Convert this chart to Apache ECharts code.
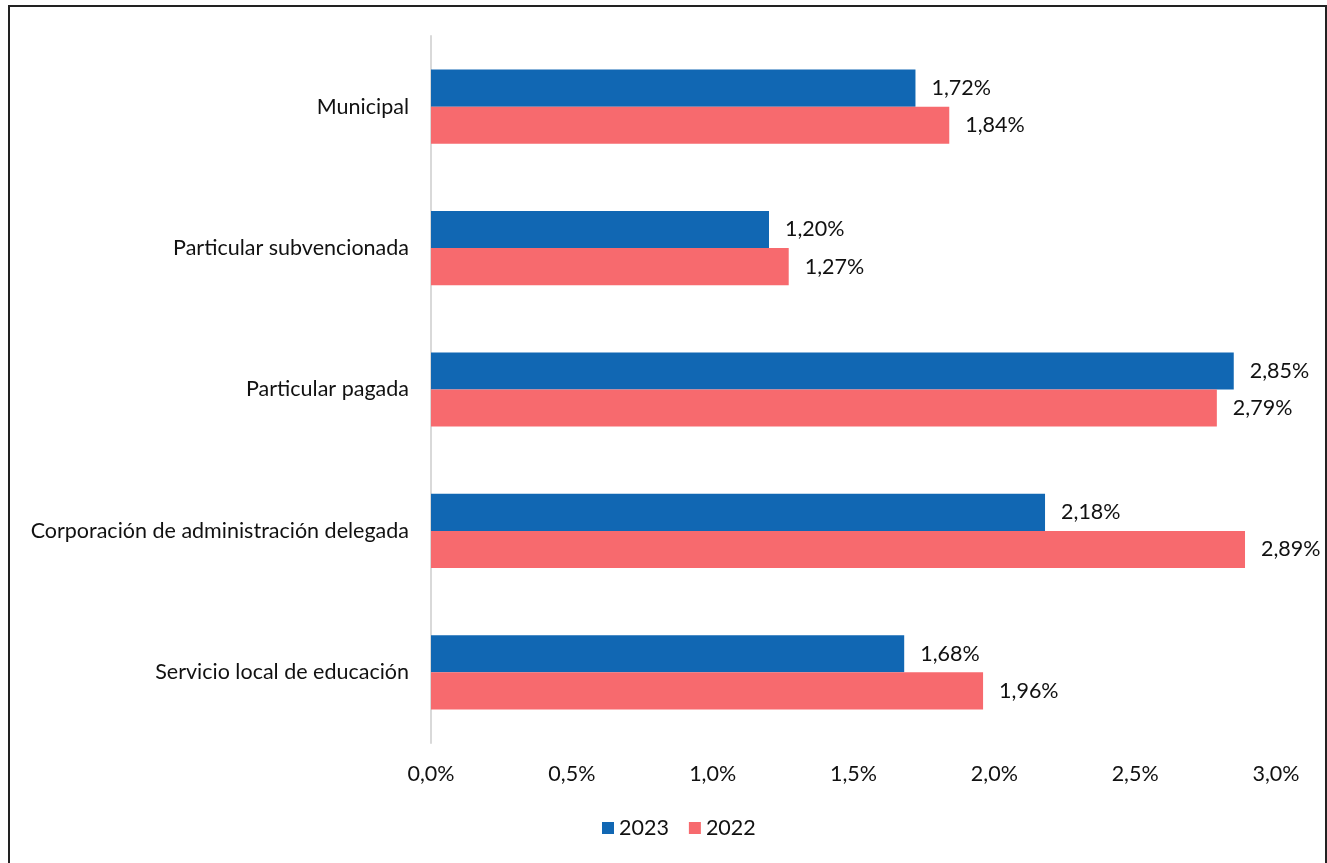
<!DOCTYPE html>
<html><head><meta charset="utf-8">
<script src="https://cdn.jsdelivr.net/npm/echarts@6/dist/echarts.min.js"></script>
<style>html,body{margin:0;padding:0;background:#fff}#c{width:1327px;height:863px}</style>
</head><body><div id="c"></div>
<script>
const categories = ["Municipal","Particular subvencionada","Particular pagada","Corporación de administración delegada","Servicio local de educación"];
const seriesNames = ["2023","2022"];
const values2023 = [1.72,1.20,2.85,2.18,1.68];
const values2022 = [1.84,1.27,2.79,2.89,1.96];
const xTicks = [0,0.5,1.0,1.5,2.0,2.5,3.0];
const colors = ["#1167B3","#F76A6E"];
const FONT = "Lato, 'Open Sans', sans-serif";
const FS = 21.5;
const fmt = v => v.toFixed(2).replace('.', ',') + '%';
const chart = echarts.init(document.getElementById('c'));
chart.setOption({
  animation:false,
  graphic:[{type:'rect',shape:{x:9,y:6,width:1317,height:870},style:{fill:'none',stroke:'#222',lineWidth:2}}],
  legend:{bottom:19,left:597,itemWidth:12,itemHeight:12,itemGap:20,icon:'rect',
    textStyle:{fontFamily:FONT,fontSize:FS,color:'#111'},data:seriesNames},
  grid:{left:431,right:51,top:36,bottom:120},
  xAxis:{type:'value',min:0,max:3.0,interval:0.5,
    axisLine:{show:false},axisTick:{show:false},splitLine:{show:false},
    axisLabel:{margin:20,fontFamily:FONT,fontSize:FS,color:'#111',formatter:v=>v.toFixed(1).replace('.',',')+'%'}},
  yAxis:{type:'category',data:categories,inverse:true,
    axisLine:{show:true,lineStyle:{color:'#D9D9D9',width:2}},axisTick:{show:false},
    axisLabel:{margin:22,fontFamily:FONT,fontSize:FS,color:'#111'}},
  series:[
    {name:seriesNames[0],type:'bar',data:values2023,barGap:'0%',barCategoryGap:'47.5%',
     itemStyle:{color:colors[0]},
     label:{show:true,position:'right',distance:16,fontFamily:FONT,fontSize:FS,color:'#111',formatter:p=>fmt(p.value)}},
    {name:seriesNames[1],type:'bar',data:values2022,barGap:'0%',barCategoryGap:'47.5%',
     itemStyle:{color:colors[1]},
     label:{show:true,position:'right',distance:16,fontFamily:FONT,fontSize:FS,color:'#111',formatter:p=>fmt(p.value)}}
  ]
});
</script></body></html>
